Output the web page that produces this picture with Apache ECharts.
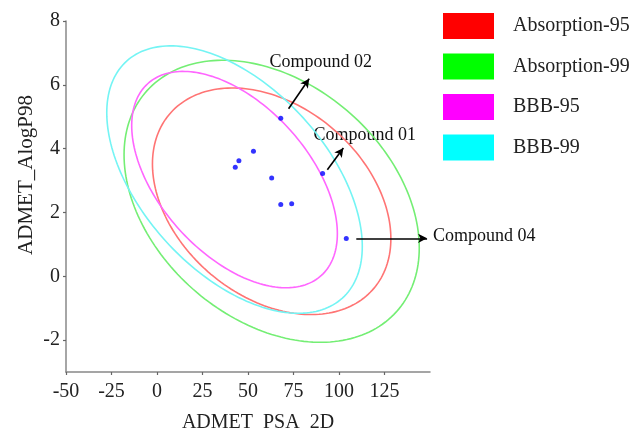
<!DOCTYPE html>
<html>
<head>
<meta charset="utf-8">
<script src="https://cdn.jsdelivr.net/npm/echarts@6/dist/echarts.min.js"></script>
<style>
html,body{margin:0;padding:0;background:#fff;}
#chart{width:637px;height:434px;}
</style>
</head>
<body>
<div id="chart"></div>
<script>
var FONT = '"Liberation Serif","Times New Roman",serif';

var seriesNames = ['Absorption-95', 'Absorption-99', 'BBB-95', 'BBB-99'];
var legendColors = ['#ff0000', '#00ff00', '#ff00ff', '#00ffff'];
var lineColors = ['#ff7474', '#74ee74', '#ff66ff', '#74f4f4'];

// ellipses: centre, half extent in x / y, correlation
var ellCx = [63.0, 63.0, 42.6, 42.6];
var ellCy = [2.35, 2.35, 3.03, 3.03];
var ellRx = [65.5, 81.1, 56.5, 70.2];
var ellRy = [3.55, 4.42, 3.39, 4.19];
var ellRho = [-0.33, -0.33, -0.5, -0.5];

// compounds
var psa   = [68, 53, 45, 43, 63, 68, 74, 91, 104];
var alogp = [4.95, 3.92, 3.62, 3.42, 3.08, 2.25, 2.27, 3.22, 1.18];

var xTicks = [-50, -25, 0, 25, 50, 75, 100, 125];
var yTicks = [-2, 0, 2, 4, 6, 8];

var arrowFrom = [[72.3, 5.25], [93.6, 3.34], [109.5, 1.19]];
var arrowTo   = [[83.6, 6.19], [102.4, 4.02], [148.4, 1.19]];
var noteText  = ['Compound 02', 'Compound 01', 'Compound 04'];
var notePos   = [[61.8, 6.72], [86.0, 4.43], [151.6, 1.25]];

function ellipseItem(k)
{
	return function(params, api) {
		var pts = [];
		var s = Math.sqrt(1 - ellRho[k] * ellRho[k]);
		for (var i = 0; i <= 200; i++) {
			var t = i / 200 * 2 * Math.PI;
			pts.push(api.coord([
				ellCx[k] + ellRx[k] * Math.cos(t),
				ellCy[k] + ellRy[k] * (ellRho[k] * Math.cos(t) + s * Math.sin(t))
			]));
		}
		return {
			type: 'polygon',
			shape: { points: pts },
			style: { fill: 'none', stroke: lineColors[k], lineWidth: 1.6 }
		};
	};
}

var series = [];
for (var k = 0; k < seriesNames.length; k++) {
	series.push({
		name: seriesNames[k],
		type: 'custom',
		renderItem: ellipseItem(k),
		itemStyle: { color: legendColors[k] },
		data: [[ellCx[k], ellCy[k]]],
		silent: true,
		z: 2
	});
}

var points = [];
for (var i = 0; i < psa.length; i++) points.push([psa[i], alogp[i]]);

var arrows = [];
for (var j = 0; j < arrowFrom.length; j++) {
	arrows.push([{ coord: arrowFrom[j] }, { coord: arrowTo[j] }]);
}

series.push({
	name: 'compounds',
	type: 'scatter',
	data: points,
	symbolSize: 5,
	itemStyle: { color: '#0000ff' },
	z: 5,
	markLine: {
		silent: true,
		symbol: ['none', 'arrow'],
		symbolSize: [7, 9],
		lineStyle: { color: '#000', width: 1.6, type: 'solid' },
		label: { show: false },
		data: arrows
	}
});

var option = {
	backgroundColor: '#fff',
	animation: false,
	grid: { left: 66, right: 207, top: 21, bottom: 62 },
	legend: {
		orient: 'vertical',
		left: 438,
		top: 8,
		itemWidth: 51,
		itemHeight: 26,
		itemGap: 14.5,
		icon: 'rect',
		selectedMode: false,
		textStyle: { fontFamily: FONT, fontSize: 20, color: '#222', padding: [0, 0, 0, 14] },
		data: seriesNames.map(function(n, i) {
			return { name: n, itemStyle: { color: legendColors[i], borderWidth: 0 } };
		})
	},
	xAxis: {
		type: 'value',
		min: -50,
		max: 150,
		splitLine: { show: false },
		axisLine: { show: true, onZero: false, lineStyle: { color: '#888', width: 1.5 } },
		axisTick: { show: true, length: 3, customValues: xTicks, lineStyle: { color: '#666', width: 1.2 } },
		axisLabel: { customValues: xTicks, margin: 10, fontFamily: FONT, fontSize: 20, color: '#222' }
	},
	yAxis: {
		type: 'value',
		min: -3,
		max: 8,
		splitLine: { show: false },
		axisLine: { show: true, onZero: false, lineStyle: { color: '#888', width: 1.5 } },
		axisTick: { show: true, length: 3, customValues: yTicks, lineStyle: { color: '#666', width: 1.2 } },
		axisLabel: { customValues: yTicks, margin: 6, fontFamily: FONT, fontSize: 20, color: '#222' }
	},
	series: series
};

var myChart = echarts.init(document.getElementById('chart'), null, { renderer: 'canvas' });
myChart.setOption(option);

// texts placed through the grid's own scale
var graphics = [];
for (var m = 0; m < noteText.length; m++) {
	var p = myChart.convertToPixel({ gridIndex: 0 }, notePos[m]);
	graphics.push({
		type: 'text',
		x: p[0],
		y: p[1],
		silent: true,
		style: { text: noteText[m], fontFamily: FONT, fontSize: 18, fill: '#111', align: 'left', verticalAlign: 'middle' }
	});
}
graphics.push({
	type: 'text', x: 258, y: 423, silent: true,
	style: { text: 'ADMET\u2002PSA\u20022D', fontFamily: FONT, fontSize: 20, fill: '#222', align: 'center', verticalAlign: 'middle' }
});
graphics.push({
	type: 'text', x: 26, y: 175, rotation: Math.PI / 2, silent: true,
	style: { text: 'ADMET_AlogP98', fontFamily: FONT, fontSize: 21, fill: '#222', align: 'center', verticalAlign: 'middle' }
});
myChart.setOption({ graphic: graphics });
</script>
</body>
</html>
